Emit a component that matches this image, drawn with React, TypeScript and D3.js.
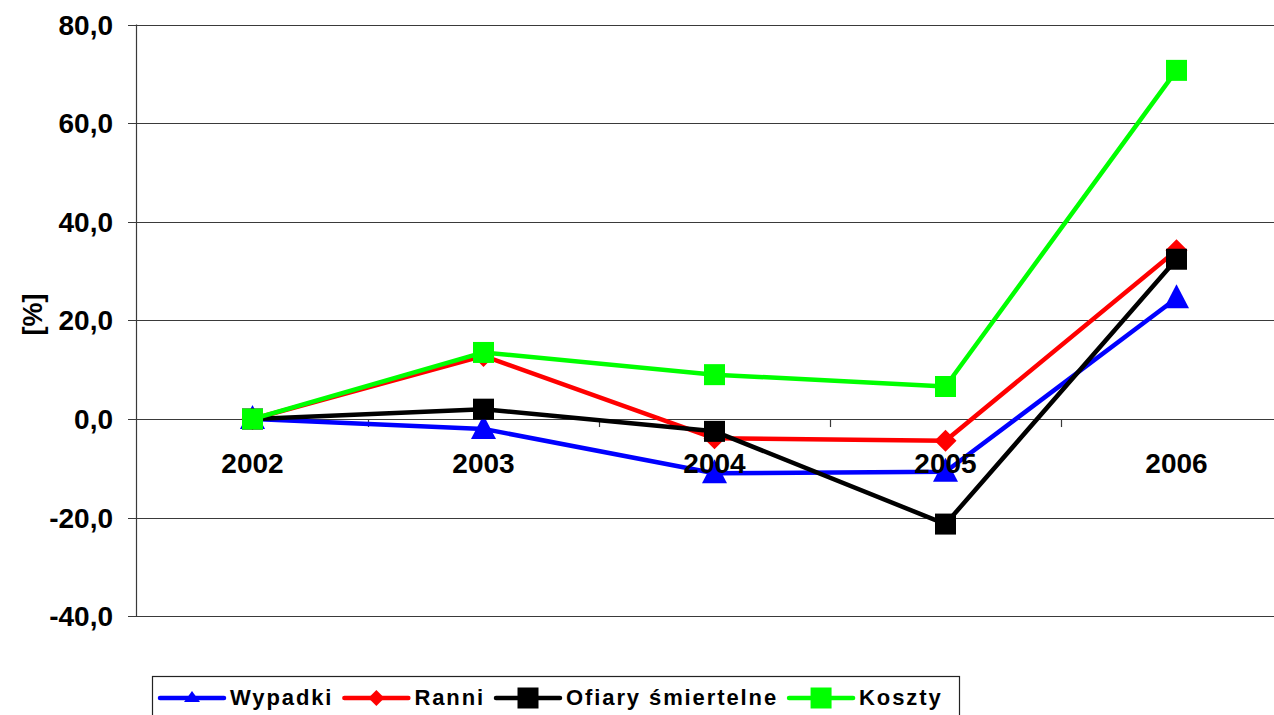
import React, { useEffect, useRef } from "react";
import * as d3 from "d3";

const years = ["2002", "2003", "2004", "2005", "2006"];
const wypadki = [0, -2.0, -11.0, -10.7, 24.5];
const ranni = [0, 12.8, -3.9, -4.4, 34.2];
const ofiary = [0, 2.0, -2.5, -21.3, 32.4];
const koszty = [0, 13.5, 9.0, 6.6, 70.7];
const yTicks = [-40, -20, 0, 20, 40, 60, 80];

const seriesNames = ["Wypadki", "Ranni", "Ofiary śmiertelne", "Koszty"];
const seriesValues = [wypadki, ranni, ofiary, koszty];
const seriesColors = ["#0000ff", "#ff0000", "#000000", "#00ff00"];
const seriesMarkers = ["triangle", "diamond", "square", "square"];

const FONT = "'Liberation Sans', Arial, sans-serif";

// marker path centred on 0,0
function markerPath(kind: string, small: boolean) {
  if (kind === "triangle") {
    return small ? "M0,-7L8,4L-8,4Z" : "M0,-14L12.5,10L-12.5,10Z";
  }
  if (kind === "diamond") {
    const r = small ? 8 : 11;
    return `M0,${-r}L${r},0L0,${r}L${-r},0Z`;
  }
  const s = 10.5;
  return `M${-s},${-s}H${s}V${s}H${-s}Z`;
}

export default function App() {
  const svgRef = useRef<SVGSVGElement>(null);

  useEffect(() => {
    document.body.style.margin = "0";
    const w = 1274;
    const h = 715;

    const svg = d3.select(svgRef.current).attr("width", w).attr("height", h);
    svg.selectAll("*").remove();

    //scales
    const x = d3.scaleBand().domain(years).range([137, 1292]).padding(0);
    const y = d3.scaleLinear().domain([-40, 80]).range([616.3, 24.5]);
    const cx = (d: string) => (x(d) as number) + x.bandwidth() / 2;

    //gridlines
    svg
      .append("g")
      .selectAll("line")
      .data(yTicks)
      .join("line")
      .attr("x1", 128)
      .attr("x2", w)
      .attr("y1", (d) => Math.round(y(d)) + 0.5)
      .attr("y2", (d) => Math.round(y(d)) + 0.5)
      .attr("stroke", "#3a3a3a")
      .attr("stroke-width", 1.2);

    //y axis line
    svg
      .append("line")
      .attr("x1", 136.5)
      .attr("x2", 136.5)
      .attr("y1", y(80))
      .attr("y2", y(-40))
      .attr("stroke", "#3a3a3a")
      .attr("stroke-width", 1.2);

    //x axis ticks at category boundaries (crossing at 0)
    svg
      .append("g")
      .selectAll("line")
      .data(years.slice(1))
      .join("line")
      .attr("x1", (d) => Math.round(x(d) as number) + 0.5)
      .attr("x2", (d) => Math.round(x(d) as number) + 0.5)
      .attr("y1", y(0))
      .attr("y2", y(0) + 8)
      .attr("stroke", "#3a3a3a")
      .attr("stroke-width", 1.2);

    //y tick labels
    svg
      .append("g")
      .selectAll("text")
      .data(yTicks)
      .join("text")
      .attr("x", 113)
      .attr("y", (d) => y(d) + 10)
      .attr("text-anchor", "end")
      .attr("font-family", FONT)
      .attr("font-weight", "bold")
      .attr("font-size", 28)
      .text((d) => d.toFixed(1).replace(".", ","));

    //axis title
    svg
      .append("text")
      .attr("transform", "translate(42,314.5) rotate(-90)")
      .attr("text-anchor", "middle")
      .attr("font-family", FONT)
      .attr("font-weight", "bold")
      .attr("font-size", 27)
      .text("[%]");

    //series
    const line = d3
      .line<number>()
      .x((d, i) => cx(years[i]))
      .y((d) => y(d));

    seriesValues.forEach((vals, si) => {
      const g = svg.append("g");
      g.append("path")
        .attr("d", line(vals))
        .attr("fill", "none")
        .attr("stroke", seriesColors[si])
        .attr("stroke-width", 4.5)
        .attr("stroke-linejoin", "round");
      g.selectAll("path.m")
        .data(vals)
        .join("path")
        .attr("class", "m")
        .attr("d", markerPath(seriesMarkers[si], false))
        .attr("transform", (d, i) => `translate(${cx(years[i])},${y(d)})`)
        .attr("fill", seriesColors[si]);
    });

    //category labels on top
    svg
      .append("g")
      .selectAll("text")
      .data(years)
      .join("text")
      .attr("x", (d) => cx(d))
      .attr("y", 473)
      .attr("text-anchor", "middle")
      .attr("font-family", FONT)
      .attr("font-weight", "bold")
      .attr("font-size", 28)
      .text((d) => d);

    //legend
    const legend = svg.append("g");
    legend
      .append("rect")
      .attr("x", 152.5)
      .attr("y", 676.5)
      .attr("width", 807)
      .attr("height", 60)
      .attr("fill", "white")
      .attr("stroke", "#222")
      .attr("stroke-width", 1.2);

    let lx = 160;
    const ly = 698;
    seriesNames.forEach((name, si) => {
      legend
        .append("line")
        .attr("x1", lx)
        .attr("x2", lx + 64)
        .attr("y1", ly)
        .attr("y2", ly)
        .attr("stroke", seriesColors[si])
        .attr("stroke-width", 4.5)
        .attr("stroke-linecap", "round");
      legend
        .append("path")
        .attr("d", markerPath(seriesMarkers[si], true))
        .attr("transform", `translate(${lx + 32},${ly})`)
        .attr("fill", seriesColors[si]);
      const t = legend
        .append("text")
        .attr("x", lx + 70)
        .attr("y", 704.5)
        .attr("font-family", FONT)
        .attr("font-weight", "bold")
        .attr("font-size", 22)
        .attr("letter-spacing", 1.9)
        .text(name);
      const tw = (t.node() as SVGTextElement).getComputedTextLength();
      lx = lx + 70 + tw + 11;
    });
  }, []);

  return (
    <div>
      <svg ref={svgRef} style={{ display: "block" }}></svg>
    </div>
  );
}
